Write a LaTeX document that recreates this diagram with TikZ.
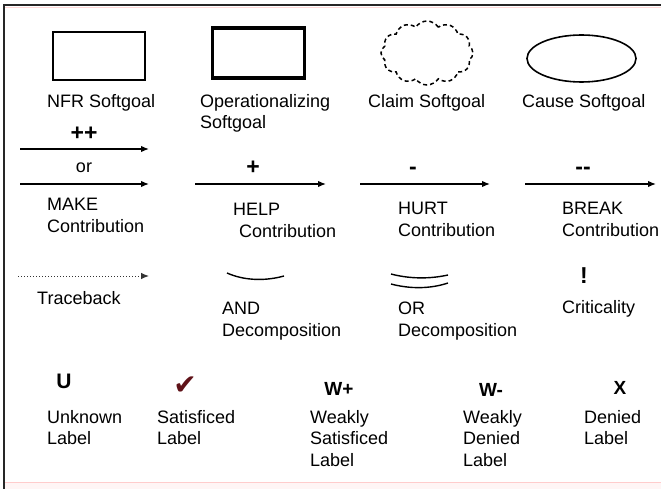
\documentclass[tikz,border=0pt]{standalone}
\usepackage{fontspec}
\setmainfont{Liberation Sans}
\newfontfamily\symfont{DejaVu Sans}
\usetikzlibrary{arrows.meta,shapes.geometric,shapes.symbols}

\tikzset{
  lbl/.style={anchor=north west,inner sep=0pt,align=left,font=\fontsize{18}{21.5}\selectfont},
  sym/.style={inner sep=0pt,font=\fontsize{23}{26}\selectfont\bfseries},
  wsym/.style={inner sep=0pt,font=\fontsize{19}{22}\selectfont\bfseries},
  contrib/.style={line width=1.4pt,-{Latex[length=8pt,width=6.5pt]}},
  goalbox/.style={draw,rectangle,minimum width=92pt,minimum height=48pt,inner sep=0pt}
}

\begin{document}
\begin{tikzpicture}[x=1pt,y=-1pt]
        \useasboundingbox (0,0) rectangle (661,489);
        % frame
        \fill[red!4] (4,482) rectangle (661,489);
        \draw[red!20,line width=0.8pt] (4,482) -- (661,482);
        \draw[red!15,line width=0.8pt] (5,7.5) -- (661,7.5);
        \draw[black!85,line width=1.6pt] (661,5) -- (4,5) -- (4,489);

        % softgoals
        \node[goalbox,line width=1.4pt] (nfr) at (99,56) {};
        \node[goalbox,line width=3.4pt,minimum height=50pt] (oper) at (258.5,53) {};
        \node[draw,cloud,cloud puffs=12,cloud puff arc=115,aspect=1.45,dashed,dash pattern=on 4pt off 3pt,line width=1.5pt,minimum width=92pt,minimum height=64pt,inner sep=0pt] (claim) at (427,53) {};
        \node[draw,ellipse,line width=1.6pt,minimum width=109pt,minimum height=47pt,inner sep=0pt] (cause) at (581.5,58.5) {};

        \node[lbl] (nfrtxt) at (47,94) {NFR Softgoal};
        \node[lbl] (opertxt) at (200,94) {Operationalizing\\Softgoal};
        \node[lbl] (claimtxt) at (368,94) {Claim Softgoal};
        \node[lbl] (causetxt) at (522,94) {Cause Softgoal};

        % contributions
        \coordinate (mk1a) at (20,149);  \coordinate (mk1b) at (149,149);
        \coordinate (mk2a) at (20,184);  \coordinate (mk2b) at (149,184);
        \coordinate (hpa) at (195,184);  \coordinate (hpb) at (326,184);
        \coordinate (hta) at (360,184);  \coordinate (htb) at (490,184);
        \coordinate (bka) at (525,184);  \coordinate (bkb) at (656,184);

        \node[sym] (mksym) at (84,134) {++};
        \node[lbl,anchor=center] (mkor) at (84,168) {or};
        \node[sym] (hpsym) at (253,168) {+};
        \node[sym] (htsym) at (413,171) {-};
        \node[sym] (bksym) at (583,171) {-{}-};

        \draw[contrib] (mk1a) -- (mk1b);
        \draw[contrib] (mk2a) -- (mk2b);
        \draw[contrib] (hpa) -- (hpb);
        \draw[contrib] (hta) -- (htb);
        \draw[contrib] (bka) -- (bkb);

        \node[lbl] (mktxt) at (47,198) {MAKE\\Contribution};
        \node[lbl] (hptxt) at (233,203) {HELP\\\hspace{6pt}Contribution};
        \node[lbl] (httxt) at (398,202) {HURT\\Contribution};
        \node[lbl] (bktxt) at (562,202) {BREAK\\Contribution};

        % traceback, decompositions, criticality
        \coordinate (tra) at (18,276); \coordinate (trb) at (149,276);
        \draw[black!80,line width=1pt,dotted,-{Latex[length=8pt,width=6.5pt]}] (tra) -- (trb);
        \node[lbl] (trtxt) at (37,291) {Traceback};

        \draw[line width=1.4pt] (227,273) .. controls (245,281) and (266,281) .. (284,276);
        \draw[line width=1.4pt] (391,274) .. controls (410,279) and (430,279) .. (448,275);
        \draw[line width=1.4pt] (391,284) .. controls (410,289) and (430,289) .. (448,283);
        \node[lbl] (andtxt) at (222,302) {AND\\Decomposition};
        \node[lbl] (ortxt) at (398,302) {OR\\Decomposition};
        \node[sym] (critsym) at (584,276) {!};
        \node[lbl] (crittxt) at (562,300) {Criticality};

        % labels
        \node[sym,font=\fontsize{21}{24}\selectfont\bfseries] (unksym) at (64,381) {U};
        \node[inner sep=0pt,text={rgb,255:red,95;green,18;blue,24},font=\symfont\fontsize{28}{30}\selectfont] (satsym) at (185,386) {✔};
        \node[wsym] (wssym) at (339,389) {W+};
        \node[wsym] (wdsym) at (491,390) {W-};
        \node[wsym] (densym) at (620,388) {X};

        \node[lbl] (unktxt) at (47,410) {Unknown\\Label};
        \node[lbl] (sattxt) at (157,410) {Satisficed\\Label};
        \node[lbl] (wstxt) at (310,410) {Weakly\\Satisficed\\Label};
        \node[lbl] (wdtxt) at (463,410) {Weakly\\Denied\\Label};
        \node[lbl] (dentxt) at (584,410) {Denied\\Label};
    \end{tikzpicture}
\end{document}
